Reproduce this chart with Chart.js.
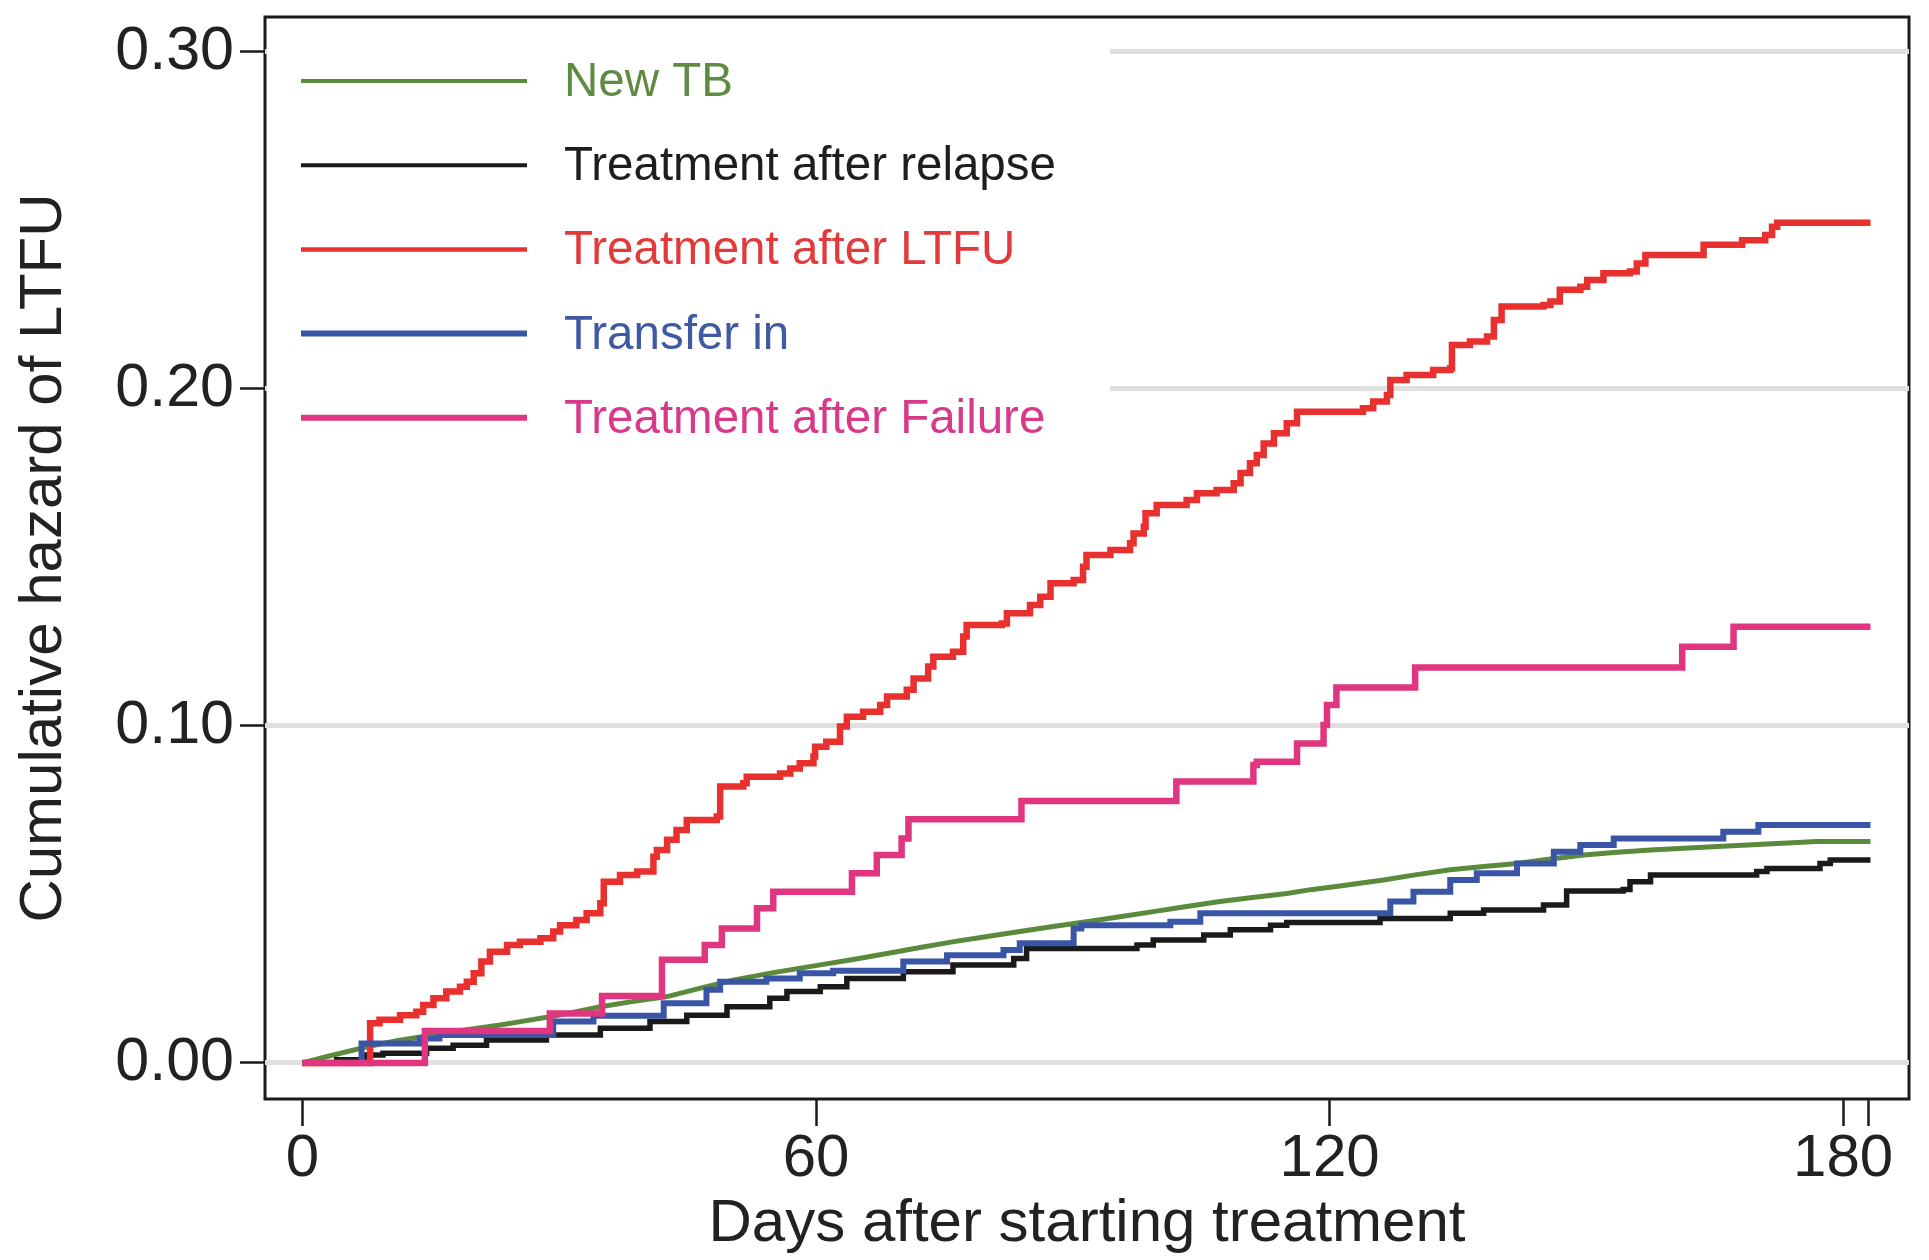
<!DOCTYPE html>
<html>
<head>
<meta charset="utf-8">
<title>Cumulative hazard of LTFU</title>
<script src="https://cdn.jsdelivr.net/npm/chart.js@4.4.1/dist/chart.umd.min.js"></script>
<style>
  html, body { margin: 0; padding: 0; background: #fff; }
  #wrap { width: 1929px; height: 1260px; }
</style>
</head>
<body>
<div id="wrap"><canvas id="hazardChart" width="1929" height="1260"></canvas></div>
<script>
// ── DATI ─────────────────────────────────────

const SERIES_LABELS = ['New TB', 'Treatment after relapse', 'Treatment after LTFU', 'Transfer in', 'Treatment after Failure'];

const X_TICKS = [0, 60, 120, 180];
const X_END_TICK = 183;            // tacca senza etichetta a fine follow-up
const Y_TICKS = [0, 0.1, 0.2, 0.3];
const X_TITLE = 'Days after starting treatment';
const Y_TITLE = 'Cumulative hazard of LTFU';

// New TB
const daysNewTB = [0, 3, 7.5, 11, 15.3, 19, 23.1, 26, 28.9, 32, 34.8, 38.5, 42.6, 46.5, 50.3, 55, 60.5, 64.5, 68.3, 72,
  76.1, 80, 83.8, 87.7, 91.6, 95.5, 99.4, 103.3, 107.2, 111, 115, 118, 121.2, 126.3, 130, 134.1, 138, 141.9, 145.8, 149.7,
  153.6, 157.5, 161.4, 165.3, 170, 176.9, 183.2];
const hazNewTB = [0, 0.0020, 0.0048, 0.0066, 0.0083, 0.0098, 0.0113, 0.0125, 0.0137, 0.0152, 0.0167, 0.0182, 0.0197, 0.0222, 0.0246, 0.0268, 0.0291, 0.0308, 0.0325, 0.0342,
  0.0360, 0.0375, 0.0390, 0.0405, 0.0419, 0.0434, 0.0449, 0.0464, 0.0479, 0.0491, 0.0503, 0.0515, 0.0525, 0.0543, 0.0558, 0.0573, 0.0583, 0.0592, 0.0605, 0.0617,
  0.0625, 0.0632, 0.0637, 0.0642, 0.0648, 0.0657, 0.0657];

// Treatment after relapse
const daysRelapse = [0, 4, 7.5, 9.4, 14.5, 17.6, 21.5, 28.5, 34.8, 40.6, 44.9, 49.6, 54.6, 56.6, 60.5, 63.6, 70.2, 76.0, 83.1, 84.6,
  97.5, 99.4, 105.3, 108.4, 113.1, 115.0, 125.9, 134.1, 138.0, 145.0, 147.7, 154.3, 155.1, 157.5, 169.9, 171.1, 177.3, 178.5, 183.2];
const hazRelapse = [0, 0.0010, 0.0024, 0.0029, 0.0044, 0.0053, 0.0068, 0.0083, 0.0103, 0.0123, 0.0142, 0.0167, 0.0192, 0.0212, 0.0226, 0.0251, 0.0271, 0.0291, 0.0310, 0.0340,
  0.0350, 0.0365, 0.0380, 0.0395, 0.0409, 0.0417, 0.0429, 0.0444, 0.0454, 0.0469, 0.0510, 0.0515, 0.0538, 0.0558, 0.0568, 0.0577, 0.0592, 0.0602, 0.0602];

// Treatment after LTFU
const daysLtfu = [0, 7.9, 9.0, 11.4, 13.3, 14.1, 15.3, 16.8, 18.4, 19.2, 20.0, 20.9, 21.9, 23.9, 25.4, 27.8, 29.3, 30.1, 32.0, 33.2,
  34.8, 35.2, 37.1, 39.1, 41.0, 41.4, 42.6, 43.7, 44.9, 48.4, 48.8, 51.5, 51.9, 55.8, 57.0, 58.1, 59.7, 59.9, 61.2, 62.8,
  63.6, 65.5, 67.5, 68.3, 70.6, 71.4, 73.1, 73.7, 76.0, 77.2, 77.6, 81.7, 82.3, 85.0, 86.2, 87.4, 90.1, 91.2, 91.6, 94.4,
  96.7, 97.1, 98.3, 98.5, 99.8, 103.3, 104.5, 106.8, 108.8, 109.6, 110.7, 111.5, 112.3, 113.5, 115.0, 116.2, 123.9, 125.1, 126.7, 127.1,
  129.0, 132.1, 134.1, 134.3, 136.4, 138.4, 139.2, 140.1, 145.0, 145.8, 146.9, 149.3, 150.1, 152.0, 155.1, 155.9, 156.9, 163.7, 168.2, 170.9,
  171.7, 172.3, 183.2];
const hazLtfu = [0, 0.0118, 0.0128, 0.0142, 0.0152, 0.0172, 0.0192, 0.0212, 0.0226, 0.0241, 0.0266, 0.0301, 0.0330, 0.0350, 0.0360, 0.0370, 0.0390, 0.0409, 0.0424, 0.0444,
  0.0474, 0.0538, 0.0558, 0.0568, 0.0612, 0.0632, 0.0662, 0.0691, 0.0721, 0.0731, 0.0820, 0.0830, 0.0849, 0.0859, 0.0874, 0.0889, 0.0909, 0.0938, 0.0953, 0.0998,
  0.1027, 0.1042, 0.1062, 0.1087, 0.1107, 0.1141, 0.1176, 0.1205, 0.1220, 0.1265, 0.1299, 0.1304, 0.1334, 0.1359, 0.1383, 0.1423, 0.1433, 0.1472, 0.1507, 0.1522,
  0.1542, 0.1571, 0.1591, 0.1631, 0.1655, 0.1670, 0.1690, 0.1700, 0.1720, 0.1750, 0.1779, 0.1804, 0.1838, 0.1868, 0.1898, 0.1932, 0.1942, 0.1962, 0.1982, 0.2026,
  0.2041, 0.2056, 0.2061, 0.2130, 0.2140, 0.2155, 0.2204, 0.2244, 0.2249, 0.2259, 0.2294, 0.2303, 0.2323, 0.2343, 0.2348, 0.2372, 0.2397, 0.2427, 0.2441, 0.2456,
  0.2481, 0.2493, 0.2493];

// Transfer in
const daysTransfer = [0, 6.9, 13.7, 16, 29.3, 34.0, 42.2, 47.2, 48.8, 54.2, 58.1, 62, 70.2, 75.3, 81.9, 83.8, 90.1, 91, 101.4, 104.9,
  127.1, 129.8, 134.1, 137.2, 141.9, 146.2, 149.3, 153.2, 166.0, 170.1, 183.2];
const hazTransfer = [0, 0.0058, 0.0073, 0.0083, 0.0123, 0.0140, 0.0177, 0.0217, 0.0241, 0.0251, 0.0266, 0.0274, 0.0301, 0.0320, 0.0335, 0.0355, 0.0399, 0.0409, 0.0419, 0.0444,
  0.0479, 0.0508, 0.0543, 0.0563, 0.0592, 0.0627, 0.0647, 0.0666, 0.0686, 0.0706, 0.0706];

// Treatment after Failure
const daysFailure = [0, 14.3, 28.9, 35.0, 42.0, 47.0, 49.0, 53.1, 55.0, 64.2, 67.1, 70.0, 70.8, 84.0, 102.1, 111.1, 111.5, 116.2, 119.3, 119.7,
  120.8, 130.0, 161.2, 167.2, 183.2];
const hazFailure = [0, 0.0095, 0.0147, 0.0199, 0.0306, 0.0350, 0.0399, 0.0459, 0.0508, 0.0563, 0.0617, 0.0666, 0.0723, 0.0777, 0.0835, 0.0884, 0.0894, 0.0948, 0.1003, 0.1062,
  0.1114, 0.1173, 0.1235, 0.1294, 0.1294];

// ── STILE ────────────────────────────────────

const LINE_COLORS  = ['#5a8a3c', '#1a1a1a', '#e8302e', '#3a55a6', '#e0357f'];
const TEXT_COLORS  = ['#5e8c43', '#1e1e1e', '#e23a3a', '#3f5aa3', '#d8398a'];
const LINE_WIDTHS  = [5, 5.5, 6.5, 6, 6.5];
const LEGEND_WIDTHS = [4, 4, 4.5, 6, 6];
const STEPPED      = [false, 'before', 'before', 'before', 'before'];
const FONT = "'Liberation Sans', Arial, Helvetica, sans-serif";
const INK = '#222222';

Chart.defaults.font.family = FONT;

function toPoints(days, haz) {
  return days.map((d, i) => ({ x: d, y: haz[i] }));
}

const seriesData = [
  toPoints(daysNewTB, hazNewTB),
  toPoints(daysRelapse, hazRelapse),
  toPoints(daysLtfu, hazLtfu),
  toPoints(daysTransfer, hazTransfer),
  toPoints(daysFailure, hazFailure)
];

// ── PLUGIN: cornice e legenda ────────────────

const framePlugin = {
  id: 'frame',
  beforeDraw(chart) {
    const { ctx, chartArea: a } = chart;
    ctx.save();
    ctx.strokeStyle = '#1a1a1a';
    ctx.lineWidth = 3;
    ctx.strokeRect(a.left, a.top, a.right - a.left, a.bottom - a.top);
    ctx.restore();
  }
};

const legendPlugin = {
  id: 'boxLegend',
  beforeDatasetsDraw(chart) {
    const { ctx, chartArea: a } = chart;
    ctx.save();
    // riquadro bianco che copre la griglia
    ctx.fillStyle = '#ffffff';
    ctx.fillRect(a.left + 2, a.top + 2, 1110 - a.left - 2, 465 - a.top);

    ctx.font = '47.5px ' + FONT;
    ctx.textBaseline = 'middle';
    ctx.textAlign = 'left';
    chart.data.datasets.forEach((ds, i) => {
      const y = 81 + i * 84.2;
      ctx.strokeStyle = LINE_COLORS[i];
      ctx.lineWidth = LEGEND_WIDTHS[i];
      ctx.beginPath();
      ctx.moveTo(301, y);
      ctx.lineTo(527, y);
      ctx.stroke();
      ctx.fillStyle = TEXT_COLORS[i];
      ctx.fillText(ds.label, 564, y + 2);
    });
    ctx.restore();
  }
};

// ── GRAFICO ──────────────────────────────────

const datasets = SERIES_LABELS.map((label, i) => ({
  label: label,
  data: seriesData[i],
  borderColor: LINE_COLORS[i],
  backgroundColor: LINE_COLORS[i],
  borderWidth: LINE_WIDTHS[i],
  stepped: STEPPED[i],
  tension: 0,
  pointRadius: 0,
  fill: false,
  borderJoinStyle: 'miter',
  borderCapStyle: 'butt',
  order: SERIES_LABELS.length - i
}));

new Chart(document.getElementById('hazardChart'), {
  type: 'line',
  data: { datasets: datasets },
  options: {
    responsive: false,
    animation: false,
    layout: { padding: { top: 17, right: 20, bottom: 0, left: 0 } },
    plugins: {
      legend: { display: false },
      tooltip: { enabled: false }
    },
    scales: {
      x: {
        type: 'linear',
        min: -4.38,
        max: 187.7,
        afterBuildTicks: s => { s.ticks = X_TICKS.concat([X_END_TICK]).map(v => ({ value: v })); },
        afterFit: s => { s.height = 161; s.paddingLeft = 0; s.paddingRight = 0; },
        grid: { drawOnChartArea: false, drawTicks: true, tickLength: 27, tickColor: '#1a1a1a', tickWidth: 2.5 },
        border: { display: false },
        ticks: {
          color: INK,
          font: { size: 60, lineHeight: 1.12 },
          padding: 0,
          maxRotation: 0,
          autoSkip: false,
          callback: v => X_TICKS.includes(v) ? String(v) : ''
        },
        title: { display: true, text: X_TITLE, color: INK, font: { size: 60 }, padding: { top: 0, bottom: 0 } }
      },
      y: {
        type: 'linear',
        min: -0.01068,
        max: 0.3103,
        afterBuildTicks: s => { s.ticks = Y_TICKS.map(v => ({ value: v })); },
        afterFit: s => { s.width = 265; s.paddingTop = 0; s.paddingBottom = 0; },
        grid: { color: '#e0e0e0', lineWidth: 5, drawTicks: true, tickLength: 25, tickColor: '#1a1a1a', tickWidth: 2.5 },
        border: { display: false },
        ticks: {
          color: INK,
          font: { size: 61 },
          padding: 6,
          callback: v => Number(v).toFixed(2)
        },
        title: { display: true, text: Y_TITLE, color: INK, font: { size: 60 }, padding: { top: 8, bottom: 0 } }
      }
    }
  },
  plugins: [framePlugin, legendPlugin]
});
</script>
</body>
</html>
